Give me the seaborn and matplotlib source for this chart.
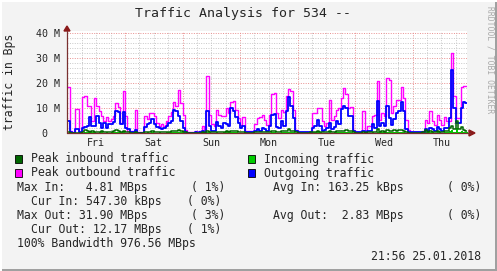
import numpy as np
import pandas as pd
import matplotlib
matplotlib.use("Agg")
import matplotlib.pyplot as plt
from matplotlib.patches import Rectangle, Polygon
from matplotlib.lines import Line2D
import seaborn as sns

# ---------------- data (values in M, hourly samples from Fri 00:00) ----------------
peak_out = [
    18.4, 0.8, 0.5, 9.6, 9.6, 0.5, 14.4, 15, 10.7, 10.7, 5, 14, 11, 9, 7, 4.7, 6.4, 5, 5.5, 6.7, 12, 10.4, 4, 17,
    6.7, 1, 0.8, 0.8, 9.3, 0.5, 0.5, 0.4, 6.7, 5.6, 8, 8, 6.7, 4, 3, 3.7, 2.7, 4.7, 6.7, 8.3, 12.5, 10.7, 17.3, 12,
    7.3, 1.3, 0.3, 0.3, 0.3, 1, 0.3, 1, 3, 0.5, 23, 7.3, 3.7, 3, 9.3, 7.3, 6.7, 7, 10, 8, 12.3, 12.7, 9.3, 6,
    3.3, 6.4, 0.7, 0.7, 1, 0.5, 3.7, 6, 6.4, 7.3, 5.3, 3.3, 7.3, 15.7, 16, 8, 6, 9.3, 8.3, 14.7, 17.6, 16.7, 9.3, 1.3,
    0.5, 0.5, 0.5, 0.5, 0.5, 1, 8, 8, 10, 10, 4.7, 2.7, 4, 13.3, 5.3, 6.7, 9.3, 10, 14, 18, 15.7, 10, 10.4,
    1.3, 0.5, 0.5, 0.5, 9, 1, 2.7, 2.7, 6.7, 7.3, 20.7, 5.3, 8, 6.7, 22, 21.3, 8, 10.7, 13.3, 13.3, 18.4, 14, 5.3, 1.3,
    0.5, 0.5, 0.5, 0.5, 0.5, 1, 5.3, 4, 8.7, 4.7, 3.3, 7.3, 5.3, 3.3, 6.4, 5, 5, 31.9, 14.7, 6, 6, 18.4, 19, 19,
]
outgoing = [
    4.7, 0.3, 0.2, 1.5, 1.5, 0.3, 2, 2.5, 3, 6.5, 3, 3, 7, 4, 2, 4, 2, 3.5, 3.5, 4.5, 9, 8.5, 3.5, 8.5,
    2, 1.5, 0.3, 0.3, 1.3, 0.2, 0.2, 0.2, 2.5, 3.5, 4, 5.5, 3.5, 2.5, 2, 1.5, 2, 3, 4, 5, 9.3, 8.7, 7, 5,
    2, 0.5, 0.2, 0.2, 0.2, 0.3, 0.2, 0.3, 1, 0.2, 9, 3, 1, 1, 4.5, 3, 2, 4, 3.5, 3, 10, 9, 6.5, 4,
    2, 3, 0.3, 0.3, 0.3, 0.3, 0.8, 1.5, 1, 2, 1.5, 0.8, 3, 7.3, 7.5, 2.5, 2, 5, 3, 9, 14.5, 11, 6, 0.8,
    0.3, 0.3, 0.3, 0.3, 0.3, 0.5, 2, 3, 5.3, 3, 1, 1.3, 2, 4, 1.5, 2.5, 5, 3.5, 9.5, 10.7, 10, 7, 7,
    0.8, 0.3, 0.3, 0.3, 1, 0.4, 0.8, 1, 3.5, 2, 13, 3, 4, 3, 10.7, 6, 3.3, 5.5, 8, 9, 12.5, 9, 1.5, 0.5,
    0.3, 0.3, 0.3, 0.3, 0.3, 0.3, 1.5, 1, 2, 1.5, 0.8, 2.3, 1.5, 1, 2, 2, 6, 25, 10, 4, 4, 10, 12.3, 12.2,
]
peak_in = [
    0.3, 0.2, 0.2, 0.2, 0.2, 0.2, 0.4, 1.2, 0.8, 0.6, 0.8, 0.6, 0.5, 0.6, 0.8, 0.5, 0.6, 0.5, 0.6, 0.8, 1.3, 0.8, 0.6, 0.7,
    0.5, 0.3, 0.2, 0.2, 0.3, 0.2, 0.2, 0.2, 0.5, 0.6, 0.5, 0.8, 0.5, 0.5, 0.6, 0.5, 0.5, 0.6, 0.6, 0.7, 0.8, 0.7, 1.2, 0.8,
    0.6, 0.3, 0.2, 0.2, 0.2, 0.2, 0.2, 0.2, 0.3, 0.2, 0.8, 0.6, 0.4, 0.4, 0.6, 0.5, 0.5, 0.6, 0.7, 0.6, 0.8, 0.9, 0.7, 0.5,
    0.4, 0.5, 0.2, 0.2, 0.2, 0.2, 0.3, 0.4, 0.3, 0.5, 0.4, 0.3, 0.5, 0.8, 0.8, 0.5, 0.5, 0.8, 0.7, 1.0, 1.6, 1.0, 0.7, 0.3,
    0.2, 0.2, 0.2, 0.2, 0.2, 0.3, 0.6, 0.6, 0.8, 0.6, 0.4, 0.4, 0.5, 0.7, 0.5, 0.6, 0.8, 0.7, 0.9, 1.0, 1.2, 0.8, 0.8,
    0.3, 0.2, 0.2, 0.2, 0.4, 0.2, 0.3, 0.4, 0.6, 0.5, 1.5, 0.6, 0.8, 0.6, 1.3, 1.0, 0.7, 1.3, 1.0, 1.1, 1.3, 1.0, 0.4, 0.2,
    0.2, 0.2, 0.2, 0.2, 0.2, 0.3, 1.3, 0.6, 0.8, 0.6, 0.5, 0.8, 0.6, 0.5, 0.7, 1.0, 2.0, 2.7, 1.5, 4.81, 1.5, 2.5, 1.2, 1.0,
]
incoming = [
    0.1, 0.1, 0.1, 0.1, 0.1, 0.1, 0.2, 0.5, 0.3, 0.3, 0.3, 0.3, 0.2, 0.3, 0.3, 0.2, 0.3, 0.2, 0.3, 0.3, 0.5, 0.3, 0.3, 0.3,
    0.2, 0.1, 0.1, 0.1, 0.1, 0.1, 0.1, 0.1, 0.2, 0.3, 0.2, 0.3, 0.2, 0.2, 0.3, 0.2, 0.2, 0.3, 0.3, 0.3, 0.3, 0.3, 0.5, 0.3,
    0.3, 0.1, 0.1, 0.1, 0.1, 0.1, 0.1, 0.1, 0.1, 0.1, 0.3, 0.3, 0.2, 0.2, 0.3, 0.2, 0.2, 0.3, 0.3, 0.3, 0.3, 0.4, 0.3, 0.2,
    0.2, 0.2, 0.1, 0.1, 0.1, 0.1, 0.1, 0.2, 0.1, 0.2, 0.2, 0.1, 0.2, 0.3, 0.3, 0.2, 0.2, 0.3, 0.3, 0.4, 0.6, 0.4, 0.3, 0.1,
    0.1, 0.1, 0.1, 0.1, 0.1, 0.1, 0.3, 0.3, 0.3, 0.3, 0.2, 0.2, 0.2, 0.3, 0.2, 0.3, 0.3, 0.3, 0.4, 0.4, 0.5, 0.3, 0.3,
    0.1, 0.1, 0.1, 0.1, 0.2, 0.1, 0.1, 0.2, 0.3, 0.2, 0.6, 0.3, 0.3, 0.3, 0.5, 0.4, 0.3, 0.5, 0.4, 0.4, 0.5, 0.4, 0.2, 0.1,
    0.1, 0.1, 0.1, 0.1, 0.1, 0.1, 0.5, 0.3, 0.3, 0.3, 0.2, 0.3, 0.3, 0.2, 0.3, 0.4, 0.8, 1.1, 0.6, 1.9, 0.6, 1.0, 0.5, 0.55,
]
day_labels = ["Fri", "Sat", "Sun", "Mon", "Tue", "Wed", "Thu"]
y_ticks = [0, 10, 20, 30, 40]
y_ticklabels = ["0  ", "10 M", "20 M", "30 M", "40 M"]

title = "Traffic Analysis for 534 --"
ylabel = "traffic in Bps"
legend_items = [
    ("Peak inbound traffic", "#006600", 15, 159),
    ("Peak outbound traffic", "#ff00ff", 15, 173),
    ("Incoming traffic", "#00cc00", 248, 159),
    ("Outgoing traffic", "#0000ff", 248, 173),
]
stats_left = [
    ("Max In:   4.81 MBps", 17, 187, "( 1%)", 191),
    ("Cur In: 547.30 kBps", 31, 201, "( 0%)", 187),
    ("Max Out: 31.90 MBps", 17, 215, "( 3%)", 191),
    ("Cur Out: 12.17 MBps", 31, 229, "( 1%)", 187),
]
stats_right = [
    ("Avg In: 163.25 kBps", 273, 187, "( 0%)", 447),
    ("Avg Out:  2.83 MBps", 273, 215, "( 0%)", 447),
]
bandwidth = "100% Bandwidth 976.56 MBps"
stamp = "21:56 25.01.2018"
credit = "RRDTOOL / TOBI OETIKER"

# ---------------- figure ----------------
sns.set_style("white")
plt.rcParams["font.family"] = ["DejaVu Sans Mono"]

W, H = 497, 271
BG = "#f3f3f3"
fig = plt.figure(figsize=(W / 100, H / 100), dpi=100, facecolor=BG)


def fx(px):
    return px / W


def fy(py):
    return 1 - py / H


ax = fig.add_axes([fx(67), fy(133), (467 - 67) / W, (133 - 31) / H])
ax.set_facecolor("white")
n = len(peak_out)
ax.set_xlim(-0.2, n - 0.3)
ax.set_ylim(0, 40.8)

# grid
GRAY = "#c8c8c8"
RED = "#e89090"
for h in range(6, n, 6):
    ax.axvline(h, color=RED if h % 24 == 0 else GRAY, lw=0.7, ls=(0, (1, 1.5)), zorder=0)
for v in range(2, 41, 2):
    ax.axhline(v, color=RED if v % 10 == 0 else GRAY, lw=0.7, ls=(0, (1, 1.5)), zorder=0)

t = np.arange(n + 1)
df = pd.DataFrame({
    "t": t,
    "peak_out": peak_out + [peak_out[-1]],
    "outgoing": outgoing + [outgoing[-1]],
    "peak_in": peak_in + [peak_in[-1]],
    "incoming": incoming + [incoming[-1]],
})

sns.lineplot(data=df, x="t", y="peak_out", drawstyle="steps-post", color="#ff00ff",
             lw=1.0, ax=ax, legend=False, estimator=None, zorder=3)
ax.fill_between(df["t"], df["incoming"], step="post", color="#00cc00", lw=0, zorder=4)
sns.lineplot(data=df, x="t", y="outgoing", drawstyle="steps-post", color="#0000ff",
             lw=1.3, ax=ax, legend=False, estimator=None, zorder=5)
sns.lineplot(data=df, x="t", y="peak_in", drawstyle="steps-post", color="#006600",
             lw=1.1, ax=ax, legend=False, estimator=None, zorder=6)

for s in ax.spines.values():
    s.set_visible(False)

ax.set_xlabel("")
ax.set_ylabel("")
ax.set_xticks([12 + 24 * i for i in range(len(day_labels))])
ax.set_xticklabels(day_labels, fontsize=7.2)
ax.set_xticks(list(range(0, n, 24)), minor=True)
ax.tick_params(axis="x", which="major", length=0, pad=3.5)
ax.tick_params(axis="x", which="minor", length=3, width=0.7, color="#7a3030", direction="out")
ax.set_yticks(y_ticks)
ax.set_yticklabels(y_ticklabels, fontsize=7.2)
ax.tick_params(axis="y", length=0, pad=5)

# axis lines with arrows
AX = "#7a3030"
fig.add_artist(Line2D([fx(67), fx(67)], [fy(133), fy(31)], color=AX, lw=0.9, transform=fig.transFigure))
fig.add_artist(Line2D([fx(67), fx(470)], [fy(133), fy(133)], color=AX, lw=0.9, transform=fig.transFigure))
fig.add_artist(Polygon([[fx(64), fy(31)], [fx(70), fy(31)], [fx(67), fy(26)]], closed=True,
                       color="#8b1a1a", transform=fig.transFigure))
fig.add_artist(Polygon([[fx(469), fy(130)], [fx(469), fy(136)], [fx(475), fy(133)]], closed=True,
                       color="#8b1a1a", transform=fig.transFigure))

# texts
fig.text(fx(243), fy(14), title, fontsize=9.5, ha="center", va="center")
fig.text(fx(10), fy(82), ylabel, fontsize=8.3, rotation=90, ha="center", va="center")
fig.text(fx(490), fy(60), credit, fontsize=5.8, rotation=270, ha="center", va="center", color="#aaaaaa")

for label, col, px, py in legend_items:
    fig.add_artist(Rectangle((fx(px), fy(py + 4)), 7 / W, 8 / H, facecolor=col, edgecolor="black",
                             lw=0.6, transform=fig.transFigure))
    fig.text(fx(px + 16), fy(py), label, fontsize=8.3, ha="left", va="center")

for txt, px, py, pct, ppx in stats_left + stats_right:
    fig.text(fx(px), fy(py), txt, fontsize=8.3, ha="left", va="center")
    fig.text(fx(ppx), fy(py), pct, fontsize=8.3, ha="left", va="center")
fig.text(fx(17), fy(243), bandwidth, fontsize=8.3, ha="left", va="center")
fig.text(fx(481), fy(257), stamp, fontsize=8.3, ha="right", va="center")

# frame
fig.add_artist(Rectangle((fx(495), 0), 2 / W, 1, facecolor="#a0a0a0", lw=0, transform=fig.transFigure))
fig.add_artist(Rectangle((0, 0), 1, 2 / H, facecolor="#a0a0a0", lw=0, transform=fig.transFigure))
fig.add_artist(Rectangle((0, fy(2)), 1, 2 / H, facecolor="white", lw=0, transform=fig.transFigure))
fig.add_artist(Rectangle((0, 0), 2 / W, 1, facecolor="white", lw=0, transform=fig.transFigure))

fig.savefig("out.png", dpi=100, facecolor=BG)
